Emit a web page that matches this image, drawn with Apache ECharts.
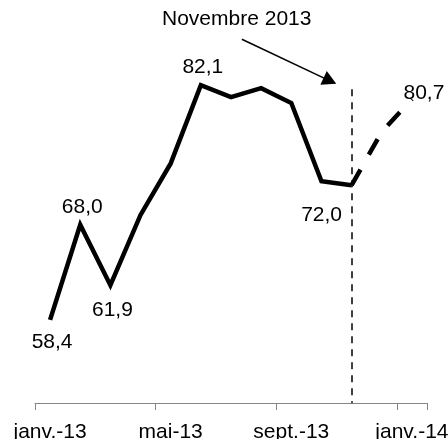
<!DOCTYPE html>
<html>
<head>
<meta charset="utf-8">
<script src="https://cdn.jsdelivr.net/npm/echarts@6/dist/echarts.min.js"></script>
<style>
html,body{margin:0;padding:0;background:#fff;}
#chart{width:448px;height:439px;}
</style>
</head>
<body>
<div id="chart"></div>
<script>
// ---- data ----
var months = ['janv.-13','févr.-13','mars-13','avr.-13','mai-13','juin-13','juil.-13','août-13','sept.-13','oct.-13','nov.-13','déc.-13','janv.-14'];
var observed = [58.4, 68.0, 61.9, 69.0, 74.2, 82.1, 80.9, 81.8, 80.3, 72.4, 72.0, null, null];
var forecast = [null, null, null, null, null, null, null, null, null, null, 72.0, 77.4, 80.7];
var annotationText = 'Novembre 2013';
var markerMonth = 'nov.-13';
var markerTop = 81.7;
// arrow end points in (month index, value) units
var arrowFrom = [6.36, 86.74];
var arrowTo = [9.28, 82.54];
var yMin = 50, yMax = 90;

// label placement (offset of label centre from point, px)
var observedLabels = {0: [2, 22], 1: [2, -18], 2: [2, 25], 5: [2, -18], 10: [-30, 30]};
var forecastLabels = {12: [12, -6]};

var FONT = 'Liberation Sans, Arial, sans-serif';
var FS = 21;
function fmt(v){ return v.toFixed(1).replace('.', ','); }
function build(values, labels){
  return values.map(function(v, i){
    var item = {value: v};
    if (labels[i]) {
      item.label = {show: true, position: 'inside', offset: labels[i], align: 'center', verticalAlign: 'middle'};
    }
    return item;
  });
}
var labelBase = {show: false, color: '#000', fontFamily: FONT, fontSize: FS, formatter: function(p){ return fmt(p.value); }};

var chart = echarts.init(document.getElementById('chart'), null, {renderer: 'canvas'});
chart.setOption({
  animation: false,
  backgroundColor: '#fff',
  title: {
    text: annotationText, left: 162, top: 9, padding: 0,
    textStyle: {fontFamily: FONT, fontSize: FS, fontWeight: 'normal', color: '#000'}
  },
  grid: {left: 35, right: 21, top: 7, bottom: 36, containLabel: false, outerBoundsMode: 'none'},
  xAxis: [{
    type: 'category', data: months, boundaryGap: true,
    axisLine: {show: true, lineStyle: {color: '#868686', width: 1}},
    axisTick: {show: true, interval: 3, length: 7, lineStyle: {color: '#868686', width: 1}},
    axisLabel: {interval: 3, margin: 19, color: '#000', fontFamily: FONT, fontSize: FS}
  }, {
    type: 'value', min: -0.5, max: months.length - 0.5, show: false
  }],
  yAxis: {type: 'value', min: yMin, max: yMax, show: false, splitLine: {show: false}},
  series: [
    {
      type: 'line', data: build(observed, observedLabels),
      symbol: 'circle', symbolSize: 0, showSymbol: true,
      itemStyle: {color: '#000'},
      lineStyle: {color: '#000', width: 4.5, join: 'miter'},
      label: labelBase, z: 3
    },
    {
      type: 'line', data: build(forecast, forecastLabels),
      symbol: 'circle', symbolSize: 0, showSymbol: true,
      itemStyle: {color: '#000'},
      lineStyle: {color: '#000', width: 4.5, type: [18, 17]},
      label: labelBase, z: 3,
      markLine: {
        silent: true, animation: false, symbol: 'none',
        label: {show: false},
        lineStyle: {color: '#000', width: 1.5, type: [7, 6]},
        data: [
          [{coord: [markerMonth, markerTop]}, {coord: [markerMonth, yMin]}]
        ]
      }
    },
    {
      type: 'line', xAxisIndex: 1, data: [], silent: true,
      markLine: {
        silent: true, animation: false,
        symbol: ['none', 'triangle'], symbolSize: [15, 14],
        label: {show: false},
        lineStyle: {color: '#000', width: 1.5, type: 'solid'},
        itemStyle: {color: '#000'},
        data: [
          [{coord: arrowFrom}, {coord: arrowTo}]
        ]
      }
    }
  ]
});
</script>
</body>
</html>
